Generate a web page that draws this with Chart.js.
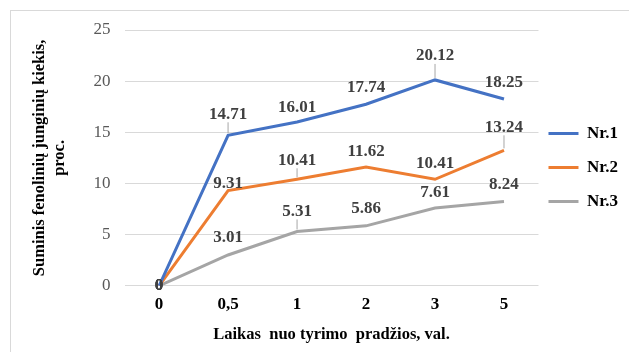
<!DOCTYPE html>
<html>
<head>
<meta charset="utf-8">
<script src="https://cdn.jsdelivr.net/npm/chart.js@4"></script>
<style>
    html, body { margin: 0; padding: 0; background: #fff; overflow: hidden; }
    #frame { position: absolute; left: 10px; top: 10px; width: 700px; height: 400px;
             border: 1px solid #d9d9d9; box-sizing: border-box; }
    #wrap { position: absolute; left: 0; top: 0; width: 629px; height: 352px; }
</style>
</head>
<body>
<div id="frame"></div>
<div id="wrap"><canvas id="chart" width="629" height="352"></canvas></div>
<script>
const categories = ["0", "0,5", "1", "2", "3", "5"];
const nr1 = [0, 14.71, 16.01, 17.74, 20.12, 18.25];
const nr2 = [0, 9.31, 10.41, 11.62, 10.41, 13.24];
const nr3 = [0, 3.01, 5.31, 5.86, 7.61, 8.24];
const yTicks = [0, 5, 10, 15, 20, 25];

// label placement (px above the point) and which labels get a leader line
const labelDy = [
    [0, -21, -14, -17, -24, -16],
    [0, -7, -19, -15, -16, -23],
    [0, -17, -20, -17, -15, -17],
];
const leaders = [
    [false, true, false, false, true, false],
    [false, false, true, false, false, true],
    [false, false, true, false, false, false],
];

const SERIF = "'Liberation Serif', 'Times New Roman', serif";

const dataLabels = {
    id: "dataLabels",
    afterDatasetsDraw(chart) {
        const ctx = chart.ctx;
        ctx.save();
        ctx.font = "bold 17px " + SERIF;
        ctx.textAlign = "center";
        ctx.textBaseline = "middle";
        chart.data.datasets.forEach((ds, di) => {
            const meta = chart.getDatasetMeta(di);
            meta.data.forEach((pt, i) => {
                const dy = labelDy[di][i];
                if (leaders[di][i]) {
                    ctx.strokeStyle = "#a6a6a6";
                    ctx.lineWidth = 1;
                    ctx.beginPath();
                    ctx.moveTo(pt.x, pt.y + dy + 8);
                    ctx.lineTo(pt.x, pt.y - 2);
                    ctx.stroke();
                }
                ctx.fillStyle = "#404040";
                ctx.fillText(String(ds.data[i]), pt.x, pt.y + dy);
            });
        });
        ctx.restore();
    },
};

// Excel puts the legend a bit above centre and close to the plot
const legendShift = {
    id: "legendShift",
    afterLayout(chart) {
        const lg = chart.legend;
        lg.top -= 20;
        lg.bottom -= 20;
        lg.left -= 7;
        lg.right -= 7;
    },
};

new Chart(document.getElementById("chart"), {
    type: "line",
    data: {
        labels: categories,
        datasets: [
            { label: "Nr.1", data: nr1, borderColor: "#4472c4", backgroundColor: "#4472c4", borderWidth: 3 },
            { label: "Nr.2", data: nr2, borderColor: "#ed7d31", backgroundColor: "#ed7d31", borderWidth: 3 },
            { label: "Nr.3", data: nr3, borderColor: "#a5a5a5", backgroundColor: "#a5a5a5", borderWidth: 3 },
        ],
    },
    options: {
        responsive: false,
        animation: false,
        layout: { padding: { left: 26, top: 30, right: -6, bottom: 7 } },
        elements: {
            line: { tension: 0, fill: false },
            point: { radius: 0 },
        },
        plugins: {
            tooltip: { enabled: false },
            legend: {
                position: "right",
                align: "center",
                labels: {
                    usePointStyle: true,
                    pointStyle: "line",
                    pointStyleWidth: 30,
                    boxHeight: 3,
                    padding: 17,
                    color: "#000",
                    font: { family: SERIF, size: 17, weight: "bold" },
                },
            },
        },
        scales: {
            x: {
                offset: true,
                grid: { display: false },
                border: { display: false },
                ticks: {
                    color: "#000",
                    padding: 0.5,
                    font: { family: SERIF, size: 17, weight: "bold" },
                },
                title: {
                    display: true,
                    text: "Laikas  nuo tyrimo  pradžios, val.",
                    color: "#000",
                    padding: { top: 10, bottom: 0 },
                    font: { family: SERIF, size: 16.5, weight: "bold" },
                },
            },
            y: {
                min: 0,
                max: 25,
                afterBuildTicks(axis) {
                    axis.ticks = yTicks.map((v) => ({ value: v }));
                },
                grid: { color: "#d9d9d9", lineWidth: 1, drawTicks: false },
                border: { display: false },
                ticks: {
                    color: "#595959",
                    padding: 14,
                    font: { family: SERIF, size: 17 },
                },
                title: {
                    display: true,
                    text: ["Suminis fenolinių junginių kiekis,", "proc."],
                    color: "#000",
                    padding: { bottom: 10 },
                    font: { family: SERIF, size: 16.5, weight: "bold" },
                },
            },
        },
    },
    plugins: [dataLabels, legendShift],
});
</script>
</body>
</html>
